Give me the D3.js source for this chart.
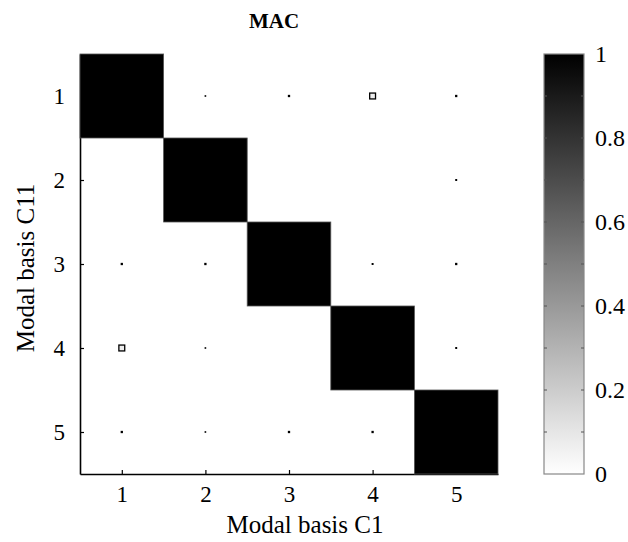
<!DOCTYPE html>
<html>
<head>
<meta charset="utf-8">
<script src="https://cdn.jsdelivr.net/npm/d3@7"></script>
<style>
  body { margin: 0; background: #fff; }
  svg text { font-family: "Liberation Serif", "Times New Roman", serif; fill: #000; }
</style>
</head>
<body>
<svg id="chart"></svg>
<script>
// modal bases on each axis
var modesC1 = [1, 2, 3, 4, 5]
var modesC11 = [1, 2, 3, 4, 5]

// MAC values, one row per mode of basis C11 (columns = basis C1)
var macRow1 = [1.0, 0.004, 0.012, 0.07, 0.012]
var macRow2 = [0, 1.0, 0, 0, 0.008]
var macRow3 = [0.012, 0.012, 1.0, 0.008, 0.012]
var macRow4 = [0.07, 0.004, 0, 1.0, 0.008]
var macRow5 = [0.012, 0.004, 0.012, 0.012, 1.0]
var macRows = [macRow1, macRow2, macRow3, macRow4, macRow5]

var colorTicks = [0, 0.2, 0.4, 0.6, 0.8, 1]
var colorMinorTicks = [0.1, 0.2, 0.3, 0.4, 0.5, 0.6, 0.7, 0.8, 0.9]

var width = 628
var height = 542
var margin = { top: 54, right: 130, bottom: 68, left: 80 }

var svg = d3.select('#chart').attr('width', width).attr('height', height)

var x = d3
  .scaleLinear()
  .domain([0.5, 5.5])
  .range([margin.left, width - margin.right])

var y = d3
  .scaleLinear()
  .domain([0.5, 5.5])
  .range([margin.top, height - margin.bottom])

var cellW = x(2) - x(1)
var cellH = y(2) - y(1)

// gray colormap: 0 = white, 1 = black
var color = v => d3.interpolateRgb('#ffffff', '#000000')(v)

// flatten the rows into cells
var cells = []
macRows.forEach((row, i) => {
  row.forEach((v, j) => {
    cells.push({ r: modesC11[i], c: modesC1[j], value: v })
  })
})

// axes
svg
  .append('g')
  .attr('transform', `translate(${margin.left},0)`)
  .call(
    d3
      .axisLeft(y)
      .tickValues(modesC11)
      .tickFormat(d3.format('d'))
      .tickSizeInner(-4)
      .tickSizeOuter(0)
      .tickPadding(15)
  )
  .call(g => g.select('.domain').attr('stroke', '#000').attr('stroke-width', 1.6))
  .call(g => g.selectAll('.tick line').attr('stroke', '#000').attr('stroke-width', 1.2))
  .call(g => g.selectAll('.tick text').attr('font-size', 23).attr('font-family', null))

svg
  .append('g')
  .attr('transform', `translate(0,${height - margin.bottom})`)
  .call(
    d3
      .axisBottom(x)
      .tickValues(modesC1)
      .tickFormat(d3.format('d'))
      .tickSizeInner(-4)
      .tickSizeOuter(0)
      .tickPadding(12)
  )
  .call(g => g.select('.domain').attr('stroke', '#000').attr('stroke-width', 1.6))
  .call(g => g.selectAll('.tick line').attr('stroke', '#000').attr('stroke-width', 1.2))
  .call(g => g.selectAll('.tick text').attr('font-size', 23).attr('font-family', null))

// squares sized and shaded by MAC value
svg
  .append('g')
  .selectAll('rect')
  .data(cells.filter(d => d.value > 0))
  .enter()
  .append('rect')
  .attr('x', d => x(d.c) - (d.value * cellW) / 2)
  .attr('y', d => y(d.r) - (d.value * cellH) / 2)
  .attr('width', d => d.value * cellW)
  .attr('height', d => d.value * cellH)
  .attr('fill', d => color(d.value))
  .attr('stroke', d => (d.value > 0.5 ? '#555' : '#000'))
  .attr('stroke-width', d => (d.value > 0.5 ? 0.8 : 1.3))

// title and axis labels
svg
  .append('text')
  .attr('x', 274)
  .attr('y', 28)
  .attr('text-anchor', 'middle')
  .attr('font-size', 21)
  .attr('font-weight', 'bold')
  .text('MAC')

svg
  .append('text')
  .attr('x', 305)
  .attr('y', 533)
  .attr('text-anchor', 'middle')
  .attr('font-size', 25)
  .text('Modal basis C1')

svg
  .append('text')
  .attr('transform', `translate(34,${(margin.top + height - margin.bottom) / 2 + 4}) rotate(-90)`)
  .attr('text-anchor', 'middle')
  .attr('font-size', 25)
  .text('Modal basis C11')

// colorbar
var cbX = 544
var cbW = 40
var cScale = d3
  .scaleLinear()
  .domain([0, 1])
  .range([height - margin.bottom, margin.top])

var grad = svg
  .append('defs')
  .append('linearGradient')
  .attr('id', 'cbGrad')
  .attr('x1', 0)
  .attr('y1', 1)
  .attr('x2', 0)
  .attr('y2', 0)

d3.range(0, 1.0001, 0.1).forEach(t => {
  grad
    .append('stop')
    .attr('offset', t)
    .attr('stop-color', color(t))
})

svg
  .append('rect')
  .attr('x', cbX)
  .attr('y', cScale(1))
  .attr('width', cbW)
  .attr('height', cScale(0) - cScale(1))
  .attr('fill', 'url(#cbGrad)')
  .attr('stroke', '#888')
  .attr('stroke-width', 1.2)

var cb = svg.append('g')

cb.selectAll('line.minL')
  .data(colorMinorTicks)
  .enter()
  .append('line')
  .attr('x1', cbX)
  .attr('x2', cbX + 3)
  .attr('y1', d => cScale(d))
  .attr('y2', d => cScale(d))
  .attr('stroke', '#555')

cb.selectAll('line.minR')
  .data(colorMinorTicks)
  .enter()
  .append('line')
  .attr('x1', cbX + cbW - 3)
  .attr('x2', cbX + cbW)
  .attr('y1', d => cScale(d))
  .attr('y2', d => cScale(d))
  .attr('stroke', '#555')

cb.selectAll('text')
  .data(colorTicks)
  .enter()
  .append('text')
  .attr('x', cbX + cbW + 11)
  .attr('y', d => cScale(d))
  .attr('dy', '0.35em')
  .attr('font-size', 24)
  .text(d => d3.format('')(d))
</script>
</body>
</html>
